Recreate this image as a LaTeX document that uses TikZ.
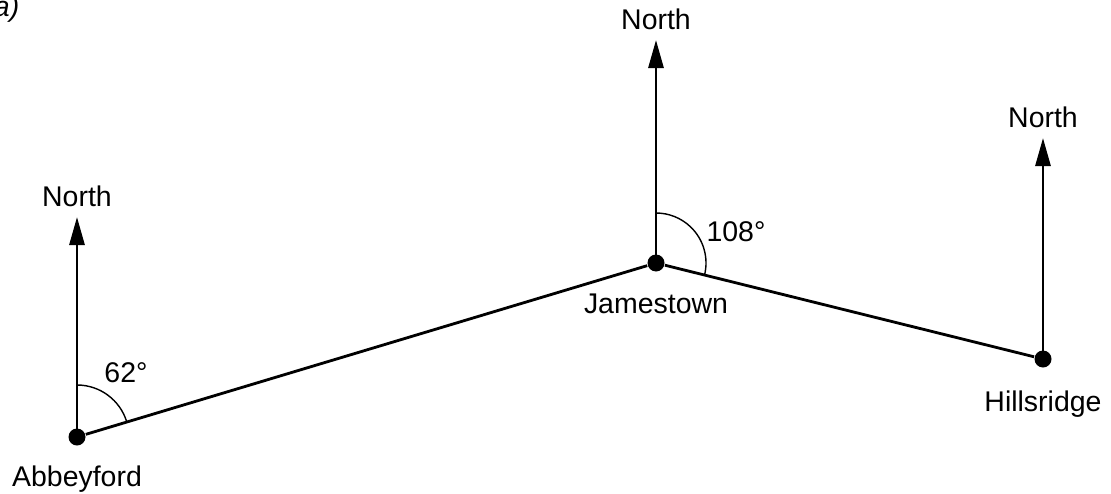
\documentclass[tikz,border=0pt]{standalone}
\usepackage{fontspec}
\setmainfont{Liberation Sans}
\usetikzlibrary{arrows.meta}
\usetikzlibrary{positioning}
\usetikzlibrary{angles}

\begin{document}
\begin{tikzpicture}[
  town/.style={circle, fill=black, inner sep=0pt, minimum size=1.7mm},
  txt/.style={font=\fontsize{8.1}{9.7}\selectfont, inner sep=0pt},
  route/.style={line width=0.8pt},
  bearing/.style={draw, line width=0.4pt}]
    \tikzset{>={Triangle[length=2.8mm, width=1.5mm]}}

  \useasboundingbox (0,0) rectangle (11.11,4.93);

  %% towns
  \node[town] (abbey) at (0.77,0.56) {};
  \node[town] (james) at (6.56,2.30) {};
  \node[town] (hills) at (10.43,1.34) {};

  %% north arrows
  \coordinate (abbeyN) at (0.77,2.76);
  \coordinate (jamesN) at (6.56,4.53);
  \coordinate (hillsN) at (10.43,3.55);

  \foreach \t in {abbey,james,hills} {
    \draw[route,->] (\t.center) -- (\t N);
    \node[txt, above=1mm of \t N] (n\t) {North};
  }

  \draw[route] (abbey) -- (james) -- (hills);

  %% names
  \node[txt, below=1.9mm of abbey] (labbey) {Abbeyford};
  \node[txt, below=2.1mm of james] (ljames) {Jamestown};
  \node[txt, below=2.2mm of hills] (lhills) {Hillsridge};

  %% bearings
  \pic[bearing, angle radius=5.2mm] {angle=james--abbey--abbeyN};
  \pic[bearing, angle radius=5mm] {angle=hills--james--jamesN};
  \node[txt] (a62) at (1.26,1.20) {62°};
  \node[txt] (a108) at (7.36,2.61) {108°};

  \node[font=\fontsize{8.1}{9.7}\selectfont\itshape, inner sep=0pt, anchor=base east] (part) at (0.20,4.77) {a)};
\end{tikzpicture}
\end{document}
